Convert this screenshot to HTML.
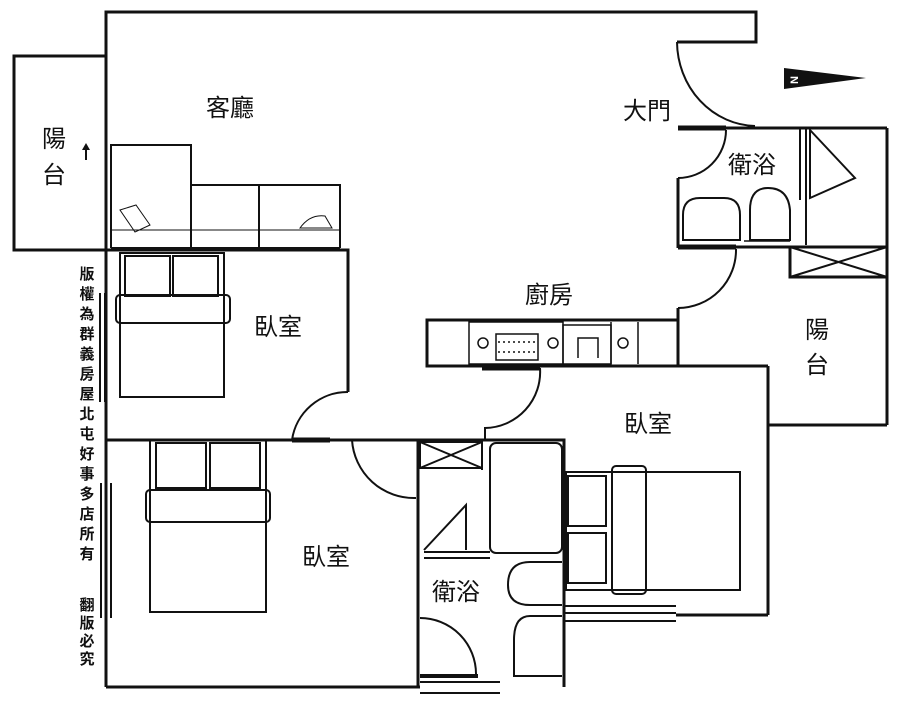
<!DOCTYPE html>
<html><head><meta charset="utf-8"><style>
html,body{margin:0;padding:0;background:#fff;}
svg{display:block}
text{font-family:"Liberation Sans","Noto Sans CJK TC",sans-serif;fill:#111}
</style></head><body>
<svg width="900" height="718" viewBox="0 0 900 718" xmlns="http://www.w3.org/2000/svg">
<g fill="none" stroke="#111" stroke-width="3" stroke-linejoin="miter">
<polyline points="106,250 106,12 756,12 756,42 677,42"/>
<polyline points="106,56 14,56 14,250 106,250"/>
<line x1="106" y1="250" x2="106" y2="687"/>
<line x1="106" y1="687" x2="420" y2="687"/>
<g stroke-width="2">
<polyline points="111,248 111,145 191,145 191,185 340,185 340,248"/>
<line x1="111" y1="248" x2="340" y2="248"/>
<line x1="191" y1="185" x2="191" y2="248"/>
<line x1="259" y1="185" x2="259" y2="248"/>
<line x1="111" y1="230" x2="340" y2="230" stroke-width="1"/>
<path d="M120 210 L136 205 L150 225 L135 232 Z" stroke-width="1"/>
<path d="M300 228 Q310 214 325 216 L332 228 Z" stroke-width="1"/>
</g>
<polyline points="106,250 348,250 348,392"/>
<path d="M348 392 A56 56 0 0 0 292 440" stroke-width="2"/>
<line x1="106" y1="440" x2="418" y2="440"/>
<line x1="292" y1="440" x2="330" y2="440" stroke-width="5"/>
<g stroke-width="2">
<rect x="120" y="253" width="104" height="144"/>
<rect x="125" y="256" width="45" height="40"/>
<rect x="173" y="256" width="45" height="40"/>
<rect x="116" y="295" width="114" height="28" rx="4"/>
</g>
<g stroke-width="2">
<rect x="150" y="440" width="116" height="172"/>
<rect x="156" y="443" width="50" height="45"/>
<rect x="210" y="443" width="50" height="45"/>
<rect x="146" y="490" width="124" height="32" rx="4"/>
</g>
<path d="M352 440 A62 62 0 0 0 416 498" stroke-width="2"/>
<polyline points="418,498 418,687"/>
<polyline points="418,440 564,440 564,687"/>
<line x1="418" y1="440" x2="418" y2="498"/>
<rect x="420" y="442" width="62" height="26" stroke-width="2"/>
<line x1="420" y1="442" x2="482" y2="468" stroke-width="2"/>
<line x1="482" y1="442" x2="420" y2="468" stroke-width="2"/>
<line x1="482" y1="442" x2="482" y2="470" stroke-width="2"/>
<rect x="490" y="443" width="72" height="110" rx="6" stroke-width="2"/>
<path d="M424 550 L466 505 L466 550" stroke-width="2"/>
<line x1="424" y1="552" x2="490" y2="552" stroke-width="2"/>
<line x1="424" y1="558" x2="490" y2="558" stroke-width="2"/>
<path d="M562 562 L530 562 Q508 562 508 585 Q508 605 530 605 L562 605" stroke-width="2"/>
<path d="M562 616 L530 616 Q514 616 514 640 L514 676 L562 676" stroke-width="2"/>
<path d="M420 618 A56 56 0 0 1 476 674" stroke-width="2"/>
<line x1="420" y1="676" x2="478" y2="676" stroke-width="4"/>
<line x1="420" y1="682" x2="500" y2="682" stroke-width="2"/>
<line x1="420" y1="693" x2="500" y2="693" stroke-width="2"/>
<line x1="427" y1="366" x2="768" y2="366"/>
<line x1="768" y1="366" x2="768" y2="615"/>
<line x1="564" y1="606" x2="676" y2="606" stroke-width="2"/>
<line x1="564" y1="613" x2="676" y2="613" stroke-width="2"/>
<line x1="564" y1="621" x2="676" y2="621" stroke-width="2"/>
<line x1="676" y1="615" x2="768" y2="615"/>
<line x1="482" y1="368" x2="540" y2="368" stroke-width="5"/>
<path d="M540 368 A56 56 0 0 1 485 428 L485 440" stroke-width="2"/>
<g stroke-width="2">
<rect x="566" y="472" width="174" height="118"/>
<rect x="568" y="476" width="38" height="50"/>
<rect x="568" y="533" width="38" height="50"/>
<rect x="612" y="466" width="34" height="128" rx="4"/>
</g>
<rect x="427" y="320" width="251" height="46"/>
<rect x="469" y="322" width="94" height="42" stroke-width="1.5"/>
<rect x="563" y="325" width="48" height="39" stroke-width="1.5"/>
<polyline points="578,358 578,338 598,338 598,358" stroke-width="1.5"/>
<line x1="611" y1="322" x2="611" y2="364" stroke-width="1.5"/>
<line x1="638" y1="322" x2="638" y2="364" stroke-width="1.5"/>
<circle cx="483" cy="343" r="5" stroke-width="1.5"/>
<circle cx="553" cy="343" r="5" stroke-width="1.5"/>
<circle cx="623" cy="343" r="5" stroke-width="1.5"/>
<rect x="496" y="334" width="42" height="26" stroke-width="1.5"/>
<line x1="498" y1="342" x2="536" y2="342" stroke-width="1.5" stroke-dasharray="2 3"/>
<line x1="498" y1="352" x2="536" y2="352" stroke-width="1.5" stroke-dasharray="2 3"/>
<path d="M677 42 A80 85 0 0 0 755 126" stroke-width="2"/>
<line x1="678" y1="128" x2="726" y2="128" stroke-width="5"/>
<line x1="726" y1="128" x2="887" y2="128"/>
<line x1="887" y1="128" x2="887" y2="425"/>
<polyline points="887,425 768,425"/>
<path d="M726 130 A48 48 0 0 1 678 178" stroke-width="2"/>
<line x1="678" y1="178" x2="678" y2="248"/>
<line x1="678" y1="247" x2="736" y2="247" stroke-width="5"/>
<line x1="736" y1="247" x2="887" y2="247"/>
<line x1="744" y1="241" x2="790" y2="241" stroke-width="1.5"/>
<path d="M736 249 A58 58 0 0 1 678 308" stroke-width="2"/>
<line x1="678" y1="308" x2="678" y2="366"/>
<line x1="800" y1="128" x2="800" y2="200" stroke-width="2"/>
<line x1="806" y1="128" x2="806" y2="245" stroke-width="2"/>
<path d="M810 130 L855 178 L810 198 Z" stroke-width="2"/>
<path d="M683 240 L683 215 Q683 198 700 198 L724 198 Q740 198 740 215 L740 240 Z" stroke-width="2"/>
<path d="M750 240 L750 210 Q750 188 768 188 Q788 188 790 210 L790 240 Z" stroke-width="2"/>
<rect x="790" y="247" width="97" height="30"/>
<line x1="790" y1="247" x2="887" y2="277" stroke-width="2"/>
<line x1="887" y1="247" x2="790" y2="277" stroke-width="2"/>
<line x1="100" y1="293" x2="100" y2="402" stroke-width="2"/>
<line x1="105" y1="293" x2="105" y2="402" stroke-width="2"/>
<line x1="101" y1="483" x2="101" y2="618" stroke-width="2"/>
<line x1="111" y1="483" x2="111" y2="618" stroke-width="2"/>
<line x1="86" y1="160" x2="86" y2="146" stroke-width="2"/>
</g>
<polygon points="82,150 86,143 90,150" fill="#111"/>
<polygon points="784,68 866,78 784,89" fill="#111"/>
<text x="788" y="84" font-size="11" font-weight="bold" style="fill:#fff" transform="rotate(-90 793 79)">N</text>
<g font-size="24">
<text x="206" y="116">客廳</text>
<text x="42" y="147">陽</text>
<text x="42" y="183">台</text>
<text x="254" y="335">臥室</text>
<text x="623" y="119">大門</text>
<text x="728" y="173">衛浴</text>
<text x="525" y="303">廚房</text>
<text x="805" y="338">陽</text>
<text x="805" y="373">台</text>
<text x="624" y="432">臥室</text>
<text x="302" y="565">臥室</text>
<text x="432" y="600">衛浴</text>
</g>
<g font-size="15" font-weight="bold" text-anchor="middle">
<text x="87" y="279">版</text><text x="87" y="299">權</text><text x="87" y="319">為</text><text x="87" y="339">群</text><text x="87" y="359">義</text><text x="87" y="379">房</text><text x="87" y="399">屋</text><text x="87" y="419">北</text><text x="87" y="439">屯</text><text x="87" y="459">好</text><text x="87" y="479">事</text><text x="87" y="499">多</text><text x="87" y="519">店</text><text x="87" y="539">所</text><text x="87" y="559">有</text>
<text x="87" y="610">翻</text><text x="87" y="628">版</text><text x="87" y="646">必</text><text x="87" y="664">究</text>
</g>
</svg>
</body></html>
